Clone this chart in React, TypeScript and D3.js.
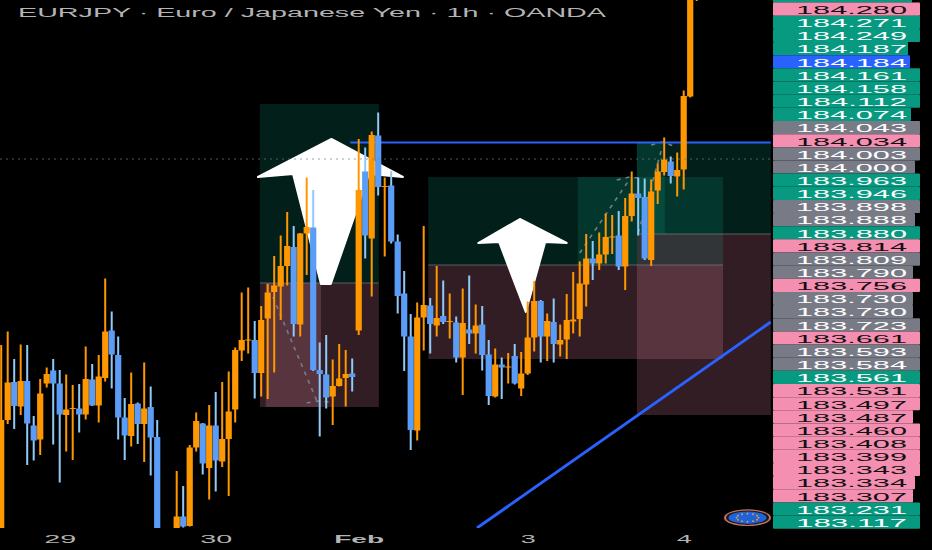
import React, { useEffect, useRef } from 'react';
import * as d3 from 'd3';

const WIDTH = 932;
const HEIGHT = 550;
const PLOT_RIGHT = 771;
const PLOT_BOTTOM = 528;

const title = 'EURJPY · Euro / Japanese Yen · 1h · OANDA';

// open, high, low, close, one row per hourly bar
const candles: number[][] = [
  [183.42,183.81,183.41,183.66],[183.66,183.837,183.652,183.735],[183.736,183.782,183.642,183.688],[183.687,183.811,183.67,183.738],
  [183.738,183.81,183.57,183.653],[183.649,183.668,183.579,183.619],[183.621,183.742,183.59,183.713],[183.733,183.765,183.725,183.752],
  [183.759,183.782,183.611,183.733],[183.733,183.76,183.535,183.671],[183.67,183.751,183.597,183.681],[183.682,183.73,183.58,183.684],
  [183.683,183.732,183.635,183.671],[183.671,183.807,183.661,183.742],[183.741,183.772,183.688,183.689],[183.689,183.79,183.655,183.747],
  [183.744,183.943,183.737,183.837],[183.839,183.877,183.723,183.791],[183.79,183.827,183.621,183.665],[183.665,183.704,183.58,183.629],
  [183.628,183.755,183.607,183.692],[183.693,183.695,183.612,183.652],[183.652,183.775,183.576,183.683],[183.686,183.727,183.549,183.625],
  [183.626,183.66,183.41,183.42],[183.41,183.436,183.40,183.43],[183.43,183.436,183.40,183.41],
  [183.42,183.558,183.41,183.467],[183.467,183.528,183.445,183.447],[183.448,183.61,183.447,183.605],[183.605,183.675,183.597,183.658],
  [183.653,183.654,183.551,183.573],[183.564,183.69,183.501,183.649],[183.649,183.716,183.517,183.579],[183.577,183.736,183.566,183.622],
  [183.622,183.757,183.508,183.677],[183.681,183.805,183.655,183.80],[183.799,183.915,183.778,183.82],[183.819,183.925,183.793,183.821],
  [183.82,183.858,183.703,183.754],[183.754,183.888,183.707,183.86],[183.863,183.932,183.702,183.915],[183.916,183.988,183.755,183.929],
  [183.927,184.029,183.86,183.968],[183.968,184.076,183.929,184.008],[184.006,184.048,183.827,183.852],[183.851,184.034,183.827,184.033],
  [184.033,184.145,183.95,184.046],[184.045,184.12,183.758,183.76],[183.76,183.815,183.627,183.752],[183.751,183.83,183.683,183.705],
  [183.707,183.781,183.65,183.728],[183.728,183.812,183.727,183.743],[183.744,183.80,183.687,183.752],[183.753,183.783,183.717,183.746],
  [183.839,184.222,183.83,184.12],[184.157,184.205,183.983,184.029],[184.023,184.237,183.907,184.23],[184.229,184.275,184.109,184.126],
  [184.126,184.145,183.987,184.128],[184.129,184.158,184.013,184.017],[184.017,184.031,183.873,183.908],[183.913,183.958,183.758,183.827],
  [183.827,183.872,183.60,183.64],[183.639,183.895,183.619,183.865],[183.865,184.048,183.799,183.89],[183.889,183.904,183.793,183.852],
  [183.849,183.968,183.827,183.864],[183.868,183.939,183.852,183.856],[183.857,183.913,183.823,183.858],[183.855,183.867,183.775,183.785],
  [183.785,183.923,183.71,183.854],[183.841,183.949,183.812,183.833],[183.833,183.891,183.793,183.849],[183.851,183.888,183.759,183.79],
  [183.791,183.82,183.69,183.708],[183.707,183.803,183.705,183.771],[183.771,183.785,183.702,183.765],[183.765,183.794,183.733,183.767],
  [183.788,183.812,183.731,183.733],[183.723,183.796,183.708,183.753],[183.753,183.897,183.75,183.825],[183.825,183.938,183.797,183.898],
  [183.898,183.90,183.775,183.827],[183.827,183.873,183.778,183.858],[183.856,183.903,183.775,183.812],[183.811,183.851,183.787,183.82],
  [183.821,183.912,183.782,183.86],[183.857,183.956,183.833,183.861],[183.862,183.977,183.827,183.933],[183.931,184.032,183.887,183.983],
  [183.983,184.018,183.94,183.973],[183.973,184.035,183.96,183.991],[183.991,184.073,183.973,184.026],[184.026,184.07,183.992,184.027],
  [184.029,184.078,183.96,183.967],[183.967,184.104,183.92,184.068],[184.068,184.157,184.057,184.113],[184.113,184.145,184.029,184.104],
  [184.106,184.143,183.98,183.983],[183.98,184.141,183.968,184.117],[184.119,184.173,184.092,184.157],[184.156,184.225,184.149,184.181],
  [184.177,184.187,184.133,184.148],[184.147,184.195,184.107,184.16],[184.161,184.319,184.121,184.308],[184.307,184.56,184.305,184.54],
  [184.51,184.62,184.498,184.58],
];

const dayTicks = [9, 33, 55, 81, 105];
const dayLabels = ['29', '30', 'Feb', '3', '4'];

const tagLabels = [
  '184.280','184.271','184.249','184.187','184.184','184.161','184.158','184.112','184.074','184.043',
  '184.034','184.003','184.000','183.963','183.946','183.898','183.888','183.880','183.814','183.809',
  '183.790','183.756','183.730','183.730','183.723','183.661','183.593','183.584','183.561','183.531',
  '183.497','183.487','183.460','183.408','183.399','183.343','183.334','183.307','183.231','183.117',
];
// p pink, g green, s grey, b blue
const tagKinds = 'pgggbggggspssggssgpsspssspssgpppppppppgg';

// [bar, price] boxes of the position tools: x0, x1, top, bottom
const greenBoxes = [
  [39.8, 58.1, 184.292, 183.934],
  [65.7, 111.05, 184.146, 183.97],
  [88.7, 97.8, 184.146, 183.97],
  [97.8, 118.4, 184.214, 184.032],
  [97.8, 102.1, 184.214, 184.032],
];
const pinkBoxes = [
  [39.8, 58.1, 183.934, 183.686],
  [40.7, 49.2, 183.934, 183.686],
  [65.7, 111.05, 183.97, 183.782],
  [97.8, 118.4, 184.032, 183.67],
];
const entryLines = [
  [39.8, 58.1, 183.934],
  [65.7, 111.05, 183.97],
  [97.8, 118.4, 184.032],
];
const dashedPaths = [
  [[41.8, 183.906], [48.7, 183.694]],
  [[47, 183.694], [48.7, 183.698], [50.6, 183.696]],
  [[89, 183.994], [96.7, 184.142]],
  [[94.7, 184.14], [96.7, 184.146], [98, 184.144]],
  [[98, 184.034], [101.7, 184.206]],
  [[100, 184.21], [101.7, 184.216], [103.5, 184.208]],
];
const arrows = [
  [[50.8, 184.222], [39.5, 184.146], [44.9, 184.152], [49.2, 183.932], [50.7, 183.932], [56.6, 184.152], [61.8, 184.146]],
  [[79.8, 184.062], [73.4, 184.014], [76.6, 184.016], [80.7, 183.876], [83.7, 184.016], [87, 184.014]],
];
const levelLine = [[53.7, 184.215], [118.4, 184.215]];
const lastPrice = 184.182;
const trendLine = [[73.2, 183.444], [118.4, 183.856]];

const ORANGE = '#ff9800';
const BLUE = '#5b9cf6';
const WICK_BLUE = '#90caf9';
const TAG_FILL: Record<string, string> = { p: '#f48fb1', g: '#089981', s: '#787b86', b: '#2962ff' };
const FONT = '"Liberation Sans", Arial, sans-serif';

function tagRight(label: string) {
  const short: Record<string, number> = {
    '184.187': 908, '184.184': 910, '184.074': 911, '184.000': 915, '183.888': 915,
    '183.790': 913, '183.730': 913, '183.487': 913, '183.334': 915, '183.307': 913,
  };
  return short[label] || 920;
}

export default function App() {
  const ref = useRef<SVGSVGElement>(null);

  useEffect(() => {
    const svg = d3.select(ref.current);
    svg.selectAll('*').remove();

    const x = d3.scaleLinear().domain([0, 118]).range([1.2, 768.2]);
    const y = d3.scaleLinear().domain([184.5, 183.45]).range([0, 525]);
    const line = d3.line<number[]>().x((d) => x(d[0])).y((d) => y(d[1]));

    svg.append('defs').append('clipPath').attr('id', 'plot')
      .append('rect').attr('width', PLOT_RIGHT).attr('height', PLOT_BOTTOM);

    const plot = svg.append('g').attr('clip-path', 'url(#plot)');

    // position boxes
    const box = (rows: number[][], fill: string) =>
      plot.append('g').selectAll('rect').data(rows).enter().append('rect')
        .attr('x', (d) => x(d[0]))
        .attr('width', (d) => x(d[1]) - x(d[0]))
        .attr('y', (d) => y(d[2]))
        .attr('height', (d) => y(d[3]) - y(d[2]))
        .attr('fill', fill)
        .attr('fill-opacity', 0.2);
    box(greenBoxes, '#089981');
    box(pinkBoxes, '#f48fb1');

    plot.append('g').selectAll('line').data(entryLines).enter().append('line')
      .attr('x1', (d) => x(d[0]))
      .attr('x2', (d) => x(d[1]))
      .attr('y1', (d) => y(d[2]))
      .attr('y2', (d) => y(d[2]))
      .attr('stroke', '#787b86')
      .attr('stroke-opacity', 0.7);

    plot.append('g').selectAll('path').data(dashedPaths).enter().append('path')
      .attr('d', (d) => line(d))
      .attr('fill', 'none')
      .attr('stroke', '#787b86')
      .attr('stroke-width', 1.6)
      .attr('stroke-dasharray', '4 5');

    // white arrows
    plot.append('g').selectAll('path').data(arrows).enter().append('path')
      .attr('d', (d) => line(d) + 'Z')
      .attr('fill', '#fff')
      .attr('stroke', '#fff')
      .attr('stroke-width', 2)
      .attr('stroke-linejoin', 'round');

    // level and trend lines
    plot.append('path').attr('d', line(levelLine)).attr('stroke', '#2962ff').attr('stroke-width', 1.8).attr('fill', 'none');
    plot.append('path').attr('d', line(trendLine)).attr('stroke', '#2962ff').attr('stroke-width', 3).attr('fill', 'none');

    // candles
    const bars = plot.append('g').selectAll('g').data(candles).enter().append('g');
    bars.append('line')
      .attr('x1', (_, i) => x(i))
      .attr('x2', (_, i) => x(i))
      .attr('y1', (d) => y(d[1]))
      .attr('y2', (d) => y(d[2]))
      .attr('stroke', (d) => (d[3] >= d[0] ? ORANGE : WICK_BLUE))
      .attr('stroke-width', 2);
    bars.append('rect')
      .attr('x', (_, i) => x(i) - 3.1)
      .attr('width', 6.2)
      .attr('y', (d) => y(Math.max(d[0], d[3])))
      .attr('height', (d) => Math.max(1, Math.abs(y(d[0]) - y(d[3]))))
      .attr('fill', (d) => (d[3] >= d[0] ? ORANGE : BLUE));

    // last price line sits over everything but stays faint
    plot.append('line')
      .attr('x1', 0).attr('x2', PLOT_RIGHT)
      .attr('y1', y(lastPrice)).attr('y2', y(lastPrice))
      .attr('stroke', '#787b86').attr('stroke-opacity', 0.7).attr('stroke-dasharray', '2 4');

    // title
    svg.append('text')
      .attr('x', 18).attr('y', 17)
      .attr('font-family', FONT).attr('font-size', 12.5)
      .attr('fill', '#b4b4b4')
      .attr('textLength', 588).attr('lengthAdjust', 'spacingAndGlyphs')
      .text(title);

    // date axis
    const axis = svg.append('g')
      .attr('transform', `translate(0,${PLOT_BOTTOM})`)
      .call(
        d3.axisBottom(x)
          .tickValues(dayTicks)
          .tickSize(0)
          .tickPadding(7)
          .tickFormat((_, i) => dayLabels[i]),
      );
    axis.select('.domain').remove();
    axis.selectAll('text')
      .attr('font-family', FONT)
      .attr('font-size', 11)
      .attr('fill', '#b4b4b4')
      .attr('font-weight', (_, i) => (i === 2 ? 700 : 400))
      .attr('lengthAdjust', 'spacingAndGlyphs')
      .attr('textLength', (_, i) => dayLabels[i].length === 3 ? 50 : dayLabels[i].length === 2 ? 32 : 15);

    // stacked price tags
    const band = d3.scaleBand<number>().domain(d3.range(tagLabels.length)).range([2.6, 528.7]);
    svg.append('rect').attr('x', 773).attr('y', 0).attr('width', 139).attr('height', band(0))
      .attr('fill', TAG_FILL.g);
    const tags = svg.append('g').selectAll('g').data(tagLabels).enter().append('g')
      .attr('transform', (_, i) => `translate(773,${band(i)})`);
    tags.append('rect')
      .attr('width', (d) => tagRight(d) - 773)
      .attr('height', band.bandwidth())
      .attr('rx', 1)
      .attr('fill', (_, i) => TAG_FILL[tagKinds[i]]);
    tags.append('text')
      .attr('x', 23).attr('y', band.bandwidth() / 2 + 4.8)
      .attr('font-family', FONT).attr('font-size', 10)
      .attr('fill', (_, i) => (tagKinds[i] === 'p' ? '#111' : '#fff'))
      .attr('textLength', 111).attr('lengthAdjust', 'spacingAndGlyphs')
      .text((d) => d);

    // flag badge
    const badge = svg.append('g').attr('transform', 'translate(747.5,517.7)');
    badge.append('ellipse').attr('rx', 23.5).attr('ry', 8.4).attr('fill', '#c9745c');
    badge.append('ellipse').attr('rx', 21.5).attr('ry', 7.2).attr('fill', '#1a1a22');
    badge.append('ellipse').attr('rx', 19).attr('ry', 6.2).attr('fill', '#1f63d8');
    badge.selectAll('circle').data(d3.range(12)).enter().append('circle')
      .attr('cx', (d) => 11 * Math.cos((d * Math.PI) / 6))
      .attr('cy', (d) => 4 * Math.sin((d * Math.PI) / 6))
      .attr('r', 0.9)
      .attr('fill', '#f2a33a');
  }, []);

  return (
    <svg
      ref={ref}
      width={WIDTH}
      height={HEIGHT}
      style={{ position: 'absolute', left: 0, top: 0, background: '#000' }}
    />
  );
}
